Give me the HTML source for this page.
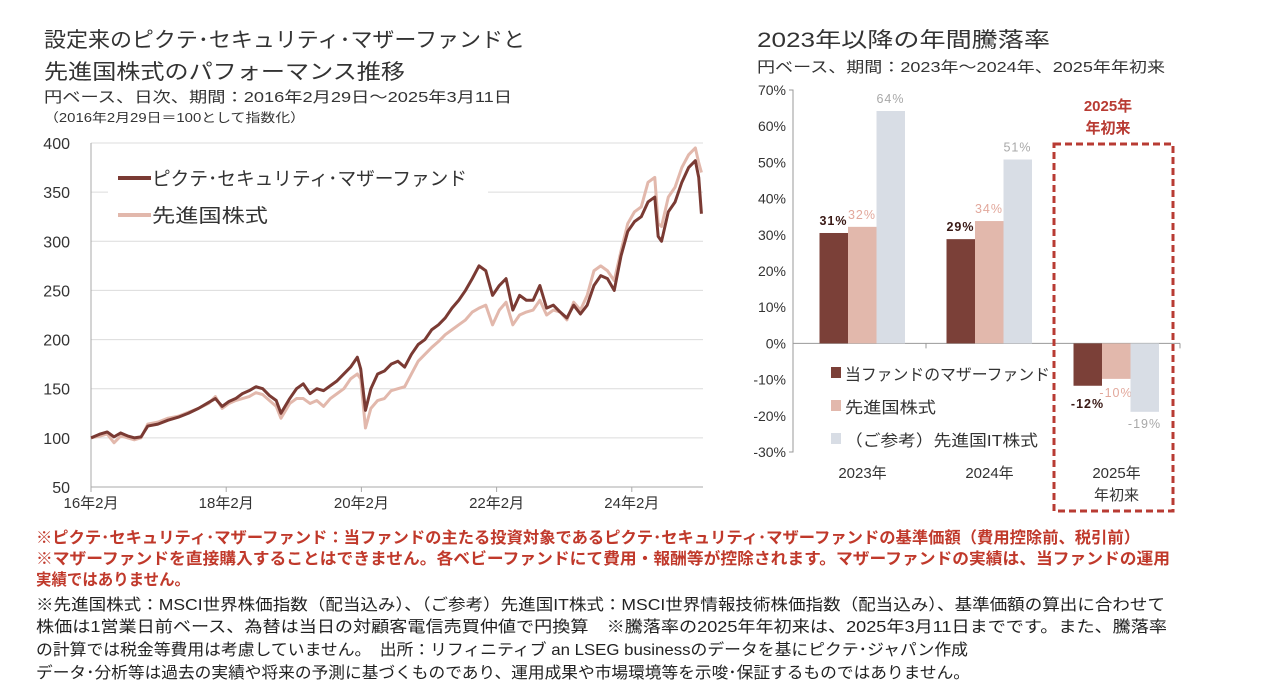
<!DOCTYPE html>
<html><head><meta charset="utf-8"><style>
body{margin:0;background:#fff}
svg text{font-family:"Liberation Sans","Noto Sans CJK JP",sans-serif}
</style></head><body>
<svg id="s" width="1263" height="690" viewBox="0 0 1263 690" xmlns="http://www.w3.org/2000/svg">
<g fill="#333" font-size="21">
<text x="44" y="47" textLength="481" lengthAdjust="spacingAndGlyphs">設定来のピクテ･セキュリティ･マザーファンドと</text>
<text x="44" y="79" textLength="361" lengthAdjust="spacingAndGlyphs">先進国株式のパフォーマンス推移</text>
<text x="44" y="102" font-size="15" textLength="468" lengthAdjust="spacingAndGlyphs">円ベース、日次、期間：2016年2月29日～2025年3月11日</text>
<text x="44" y="122" font-size="12.5" textLength="261" lengthAdjust="spacingAndGlyphs">（2016年2月29日＝100として指数化）</text>
</g>
<g fill="#333">
<text x="757" y="47" font-size="21" textLength="293" lengthAdjust="spacingAndGlyphs">2023年以降の年間騰落率</text>
<text x="757" y="72" font-size="15" textLength="408" lengthAdjust="spacingAndGlyphs">円ベース、期間：2023年～2024年、2025年年初来</text>
</g>
<g id="line"></g>
<g id="bar"></g>
<g font-size="16">
<text x="36" y="543" fill="#c0392b" font-weight="bold" textLength="1104" lengthAdjust="spacingAndGlyphs">※ピクテ･セキュリティ･マザーファンド：当ファンドの主たる投資対象であるピクテ･セキュリティ･マザーファンドの基準価額（費用控除前、税引前）</text>
<text x="36" y="564" fill="#c0392b" font-weight="bold" textLength="1134" lengthAdjust="spacingAndGlyphs">※マザーファンドを直接購入することはできません。各ベビーファンドにて費用・報酬等が控除されます。マザーファンドの実績は、当ファンドの運用</text>
<text x="36" y="585" fill="#c0392b" font-weight="bold" textLength="154" lengthAdjust="spacingAndGlyphs">実績ではありません。</text>
<text x="36" y="610" fill="#222" textLength="1129" lengthAdjust="spacingAndGlyphs">※先進国株式：MSCI世界株価指数（配当込み）、（ご参考）先進国IT株式：MSCI世界情報技術株価指数（配当込み）、基準価額の算出に合わせて</text>
<text x="36" y="632" fill="#222" textLength="1131" lengthAdjust="spacingAndGlyphs">株価は1営業日前ベース、為替は当日の対顧客電信売買仲値で円換算　※騰落率の2025年年初来は、2025年3月11日までです。また、騰落率</text>
<text x="36" y="655" fill="#222" textLength="932" lengthAdjust="spacingAndGlyphs">の計算では税金等費用は考慮していません。　出所：リフィニティブ an LSEG businessのデータを基にピクテ･ジャパン作成</text>
<text x="36" y="678" fill="#222" textLength="934" lengthAdjust="spacingAndGlyphs">データ･分析等は過去の実績や将来の予測に基づくものであり、運用成果や市場環境等を示唆･保証するものではありません。</text>
</g>
</svg>
<script>
const yTicks=[50,100,150,200,250,300,350,400];
const xTickLabels=["16年2月","18年2月","20年2月","22年2月","24年2月"];
const xTickYears=[2016.16,2018.16,2020.16,2022.16,2024.16];
const dates=[2016.16,2016.3,2016.4,2016.5,2016.6,2016.7,2016.8,2016.9,2017.0,2017.15,2017.3,2017.45,2017.6,2017.75,2017.9,2018.0,2018.1,2018.2,2018.3,2018.4,2018.5,2018.6,2018.7,2018.8,2018.9,2018.97,2019.1,2019.2,2019.3,2019.4,2019.5,2019.6,2019.7,2019.8,2019.9,2020.0,2020.1,2020.15,2020.22,2020.3,2020.4,2020.5,2020.6,2020.7,2020.8,2020.9,2021.0,2021.1,2021.2,2021.3,2021.4,2021.5,2021.6,2021.7,2021.8,2021.9,2022.0,2022.1,2022.2,2022.3,2022.4,2022.5,2022.6,2022.7,2022.8,2022.9,2023.0,2023.1,2023.2,2023.3,2023.4,2023.5,2023.6,2023.7,2023.8,2023.9,2024.0,2024.1,2024.2,2024.3,2024.4,2024.5,2024.55,2024.6,2024.7,2024.8,2024.9,2025.0,2025.1,2025.15,2025.19];
const fundValues=[100,104,106,101,105,102,100,101,112,114,118,121,125,130,136,140,132,137,140,145,148,152,150,143,138,125,140,150,155,145,150,148,153,158,165,172,182,170,128,150,165,168,175,178,172,185,195,200,210,215,222,232,240,250,262,275,270,245,255,262,230,245,240,240,255,232,235,228,222,235,226,235,255,265,262,250,285,310,320,325,340,345,305,300,330,340,360,375,382,365,328];
const benchValues=[100,102,104,95,102,100,98,100,114,116,120,122,126,130,135,142,130,135,138,140,142,146,144,138,132,120,135,140,140,135,138,132,140,145,150,160,165,160,110,130,138,140,148,150,152,165,178,185,192,198,205,210,215,220,228,232,235,215,230,238,215,225,228,230,240,225,230,228,220,238,230,245,270,275,270,260,290,318,330,335,360,365,318,315,345,355,375,388,395,380,370];
const barCats=[["2023年"],["2024年"],["2025年","年初来"]];
const fundRet=[30.5,28.8,-11.7];
const benchRet=[32.2,33.8,-9.8];
const itRet=[64.2,50.8,-18.9];
const fundLbl=["31%","29%","-12%"];
const benchLbl=["32%","34%","-10%"];
const itLbl=["64%","51%","-19%"];
const barTicks=[70,60,50,40,30,20,10,0,-10,-20,-30];

const NS="http://www.w3.org/2000/svg";
function mk(p,t,a,txt){const e=document.createElementNS(NS,t);for(const k in a)e.setAttribute(k,a[k]);if(txt!==undefined)e.textContent=txt;p.appendChild(e);return e;}
const L=document.getElementById('line');
const X0=91,X1=703,YT=143,YB=487;
const xs=d=>X0+(d-2016.16)*67.6;
const ys=v=>YB-(v-50)/350*(YB-YT);
yTicks.forEach(v=>{
  if(v>50){const g=mk(L,'line',{x1:X0,x2:X1,y1:ys(v),y2:ys(v),stroke:'#dcdcdc','stroke-width':1});
  
  }
  const t=mk(L,'text',{x:70,y:ys(v)+6,'text-anchor':'end','font-size':16,fill:'#333'},String(v));
  
  
});
const ax=mk(L,'path',{d:`M${X0} ${YT}V${YB}H${X1}`,stroke:'#aaa',fill:'none'});


xTickYears.forEach((d,i)=>{
  const tk=mk(L,'line',{x1:xs(d),x2:xs(d),y1:YB,y2:YB+5,stroke:'#aaa'});
  
  
  const t=mk(L,'text',{x:xs(d),y:508,'text-anchor':'middle','font-size':15,fill:'#333'},xTickLabels[i]);
  
  
});
const lg=mk(L,'rect',{x:108,y:158,width:380,height:78,fill:'#fff'});


function pl(vals,col,w,name){const p=mk(L,'polyline',{points:vals.map((v,i)=>xs(dates[i])+','+ys(v)).join(' '),fill:'none',stroke:col,'stroke-width':w,'stroke-linejoin':'round'});

}
pl(benchValues,'#e2b8ac',3,'series-developed-equity');
pl(fundValues,'#7a3a33',3,'series-mother-fund');
[['#7a3a33',178,'ピクテ･セキュリティ･マザーファンド',315],['#e2b8ac',215,'先進国株式',116]].forEach(([c,y,t,w])=>{
  const g=mk(L,'g',{});
  
  
  mk(g,'line',{x1:118,x2:151,y1:y,y2:y,stroke:c,'stroke-width':4});
  mk(g,'text',{x:152,y:y+7,'font-size':19,fill:'#333',textLength:w,lengthAdjust:'spacingAndGlyphs'},t);
});
const B=document.getElementById('bar');
const BX0=793,BX1=1180,B70=90,Bm30=452;
const by=v=>B70+(70-v)/100*(Bm30-B70);
barTicks.forEach(v=>{
  const t=mk(B,'text',{x:786,y:by(v)+5,'text-anchor':'end','font-size':14,fill:'#333'},v+'%');
  
  
});
const bax=mk(B,'path',{d:`M${BX0-4} ${B70}H${BX0}V${Bm30}H${BX0-4}M${BX0} ${by(0)}H${BX1}M926 ${by(0)}v5M${BX1} ${by(0)}v5`,stroke:'#999',fill:'none'});


const cols=['#7b4038','#e2b8ac','#d8dde5'];
const lcols=['#3a1a16','#e2a89c','#a8a8a8'];
const negOff=[22,18,16];
const series=[fundRet,benchRet,itRet],lbls=[fundLbl,benchLbl,itLbl];
barCats.forEach((c,i)=>{
  const cx=862.5+i*127;
  series.forEach((s,j)=>{
    const v=s[i],x=cx-43+j*28.5;
    const r=mk(B,'rect',{x:x,y:Math.min(by(v),by(0)),width:28.5,height:Math.abs(by(v)-by(0)),fill:cols[j]});
    
    
    const ly=v>=0?by(v)-8:by(v)+negOff[j];
    const t=mk(B,'text',{x:x+14,y:ly,'text-anchor':'middle','font-size':12.5,'letter-spacing':1,fill:lcols[j],'font-weight':j==0?'bold':'normal'},lbls[j][i]);
    
    
  });
  c.forEach((s,k)=>{const t=mk(B,'text',{x:cx,y:478+k*22,'text-anchor':'middle','font-size':15,fill:'#333'},s);
  
  });
});
[['当ファンドのマザーファンド',374,205],['先進国株式',407,91],['（ご参考）先進国IT株式',440,193]].forEach(([t,y,w],j)=>{
  const g=mk(B,'g',{});
  
  
  mk(g,'rect',{x:831,y:y-7,width:10,height:11,fill:cols[j]});
  mk(g,'text',{x:845,y:y+6,'font-size':16,fill:'#333',textLength:w,lengthAdjust:'spacingAndGlyphs'},t);
});
const box=mk(B,'rect',{x:1054,y:144,width:119,height:367,fill:'none',stroke:'#b83b33','stroke-width':3,'stroke-dasharray':'7,4'});


['2025年','年初来'].forEach((s,k)=>{const t=mk(B,'text',{x:1108,y:111+k*22,'text-anchor':'middle','font-size':15,'font-weight':'bold',fill:'#b83b33'},s);

});
</script>
</body></html>
